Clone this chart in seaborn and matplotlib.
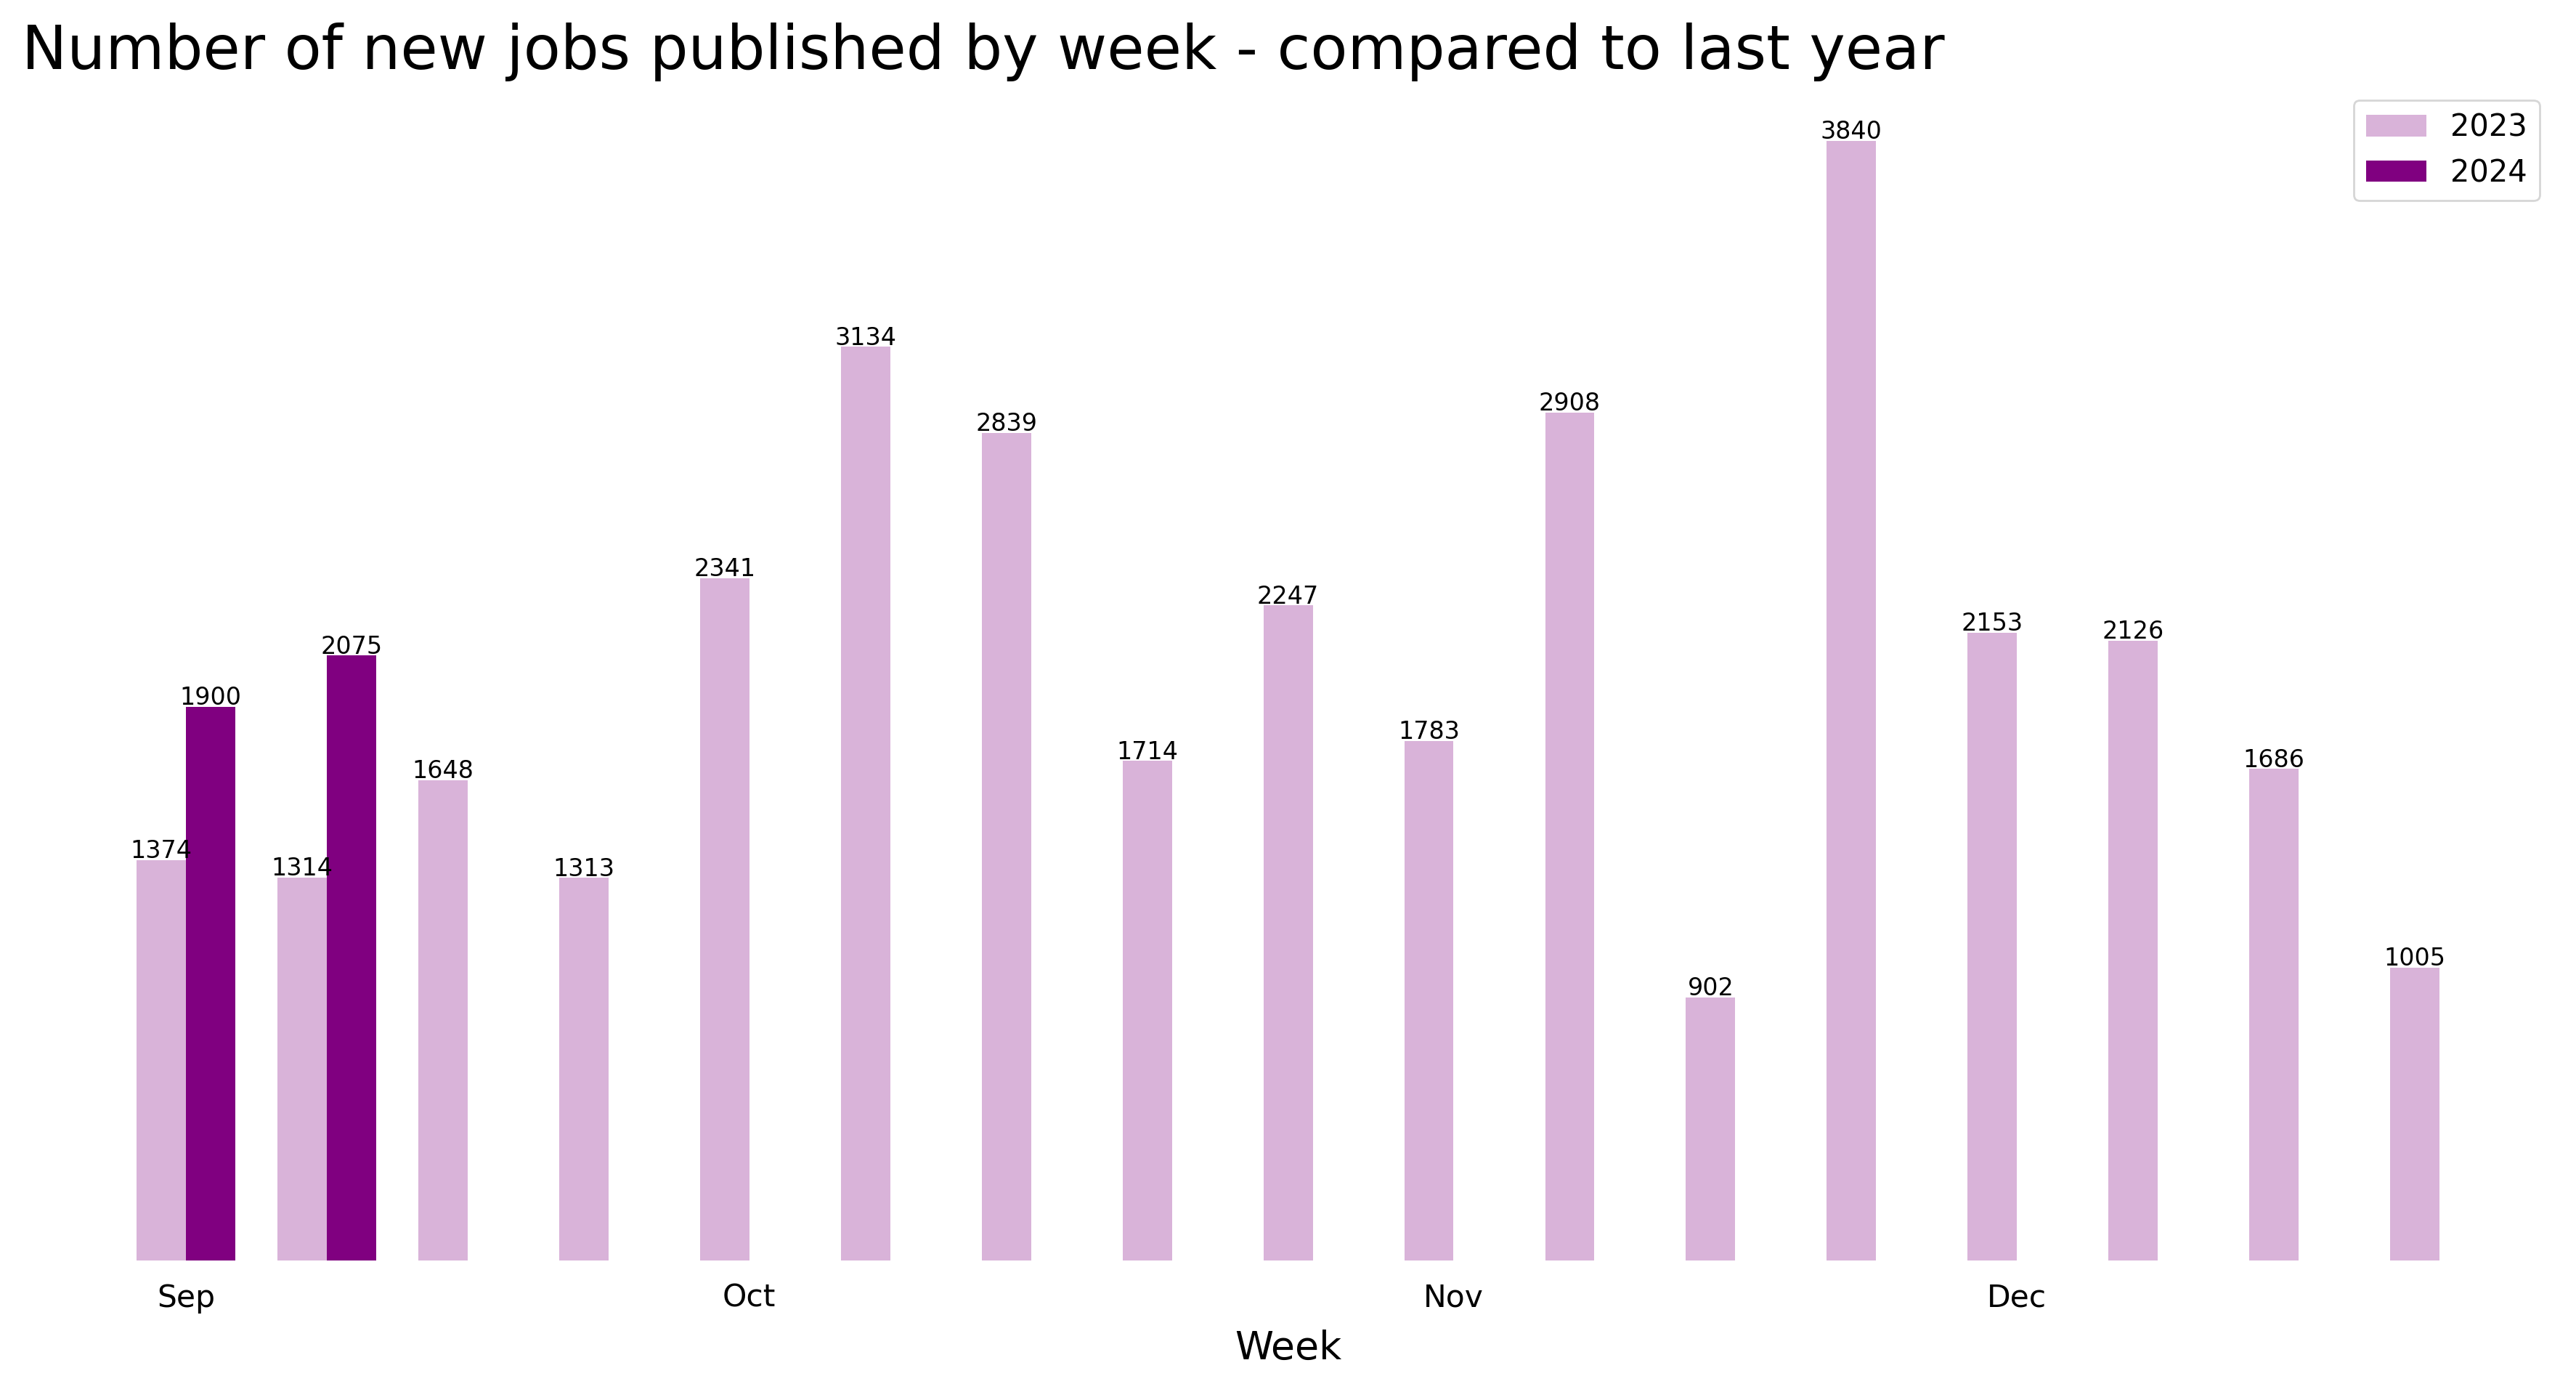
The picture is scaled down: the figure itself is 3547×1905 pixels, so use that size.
import matplotlib
matplotlib.use("Agg")
import matplotlib.pyplot as plt
import seaborn as sns
import pandas as pd
import numpy as np

# ---- data ----
weeks = ["2023-09-04", "2023-09-11", "2023-09-18", "2023-09-25",
         "2023-10-02", "2023-10-09", "2023-10-16", "2023-10-23", "2023-10-30",
         "2023-11-06", "2023-11-13", "2023-11-20", "2023-11-27",
         "2023-12-04", "2023-12-11", "2023-12-18", "2023-12-25"]
jobs_2023 = [1374, 1314, 1648, 1313, 2341, 3134, 2839, 1714, 2247,
             1783, 2908, 902, 3840, 2153, 2126, 1686, 1005]
jobs_2024 = [1900, 2075]
years = ["2023", "2024"]
month_ticks = [0, 4, 9, 13]
month_labels = ["Sep", "Oct", "Nov", "Dec"]
colors = {"2023": "#D9B3D9", "2024": "#800080"}

rows = [{"week": w, "year": "2023", "jobs": v} for w, v in zip(weeks, jobs_2023)]
rows += [{"week": w, "year": "2024", "jobs": v} for w, v in zip(weeks, jobs_2024)]
df = pd.DataFrame(rows)

plt.rcParams['font.family'] = ['DejaVu Sans']
plt.rcParams['text.color'] = 'black'
plt.rcParams['xtick.color'] = 'black'
plt.rcParams['axes.labelcolor'] = 'black'

W, H, DPI = 3547, 1905, 200
fig = plt.figure(figsize=(W / DPI, H / DPI), dpi=DPI)
fig.patch.set_facecolor("white")
ax_left, ax_right = 29.6 / W, 3517.6 / W
ax_bottom, ax_top = (H - 1735) / H, (H - 117) / H
ax = fig.add_axes([ax_left, ax_bottom, ax_right - ax_left, ax_top - ax_bottom])
ax.set_facecolor("white")

sns.barplot(data=df, x="week", y="jobs", hue="year", order=weeks,
            hue_order=years, palette=colors, width=0.7, dodge=True,
            saturation=1, ax=ax, errorbar=None, linewidth=0)

for c in ax.containers:
    ax.bar_label(c, fmt="{:.0f}", fontsize=12, color="black", padding=-1.6)

ax.set_xlim(-1.1675, 16.8175)
ax.set_ylim(0, max(jobs_2023) * 1.05)
ax.set_xticks(month_ticks)
ax.set_xticklabels(month_labels, fontsize=15.3)
ax.tick_params(axis="x", length=0, pad=11)
ax.set_yticks([])
ax.set_ylabel("")
ax.set_xlabel("Week", fontsize=19.3, labelpad=8)
for s in ax.spines.values():
    s.set_visible(False)

ax.set_title("Number of new jobs published by week - compared to last year",
             loc="left", fontsize=30, pad=8)

handles, labels = ax.get_legend_handles_labels()
ax.legend(handles, labels, loc="upper right", fontsize=15)

fig.savefig("out.png", dpi=DPI, facecolor="white")
